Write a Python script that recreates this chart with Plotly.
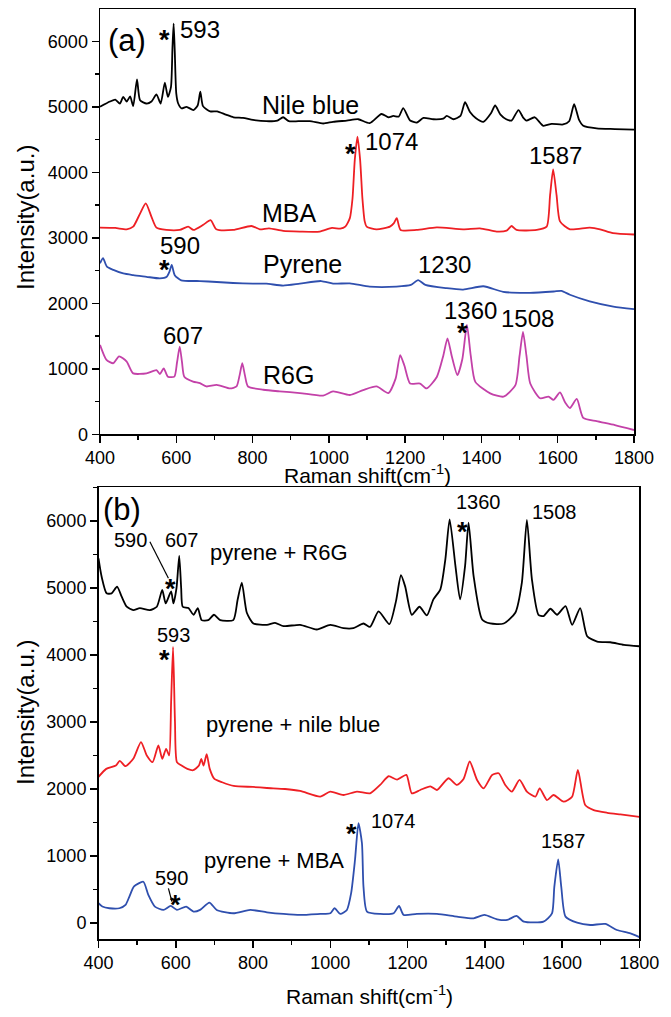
import plotly.graph_objects as go

# ---------------- Panel (a) data ----------------
nile_x = [400, 426, 440, 452, 461, 470, 479, 487, 497, 505, 522, 535, 548, 559, 570, 578, 586, 590, 593, 596, 600, 605,
          614, 627, 645, 656, 663, 670, 689, 707, 730, 750, 775, 801, 836, 865, 880, 895, 920, 950, 985, 1011, 1047,
          1077, 1107, 1138, 1156, 1169, 1183, 1195, 1213, 1231, 1248, 1274, 1300, 1309, 1327, 1345, 1357, 1370, 1385,
          1405, 1425, 1436, 1450, 1465, 1479, 1497, 1510, 1518, 1540, 1562, 1584, 1614, 1630, 1643, 1656, 1667, 1702,
          1750, 1800]
nile_y = [5000, 5080, 5110, 5050, 5150, 5080, 5160, 5010, 5420, 5100, 5050, 5080, 5190, 5050, 5370, 5150, 5300, 5900,
          6270, 5850, 5200, 5050, 4975, 5000, 4950, 5020, 5230, 5010, 4930, 4930, 4880, 4840, 4830, 4800, 4780, 4790,
          4840, 4780, 4780, 4780, 4745, 4770, 4790, 4810, 4750, 4890, 4840, 4860, 4850, 4980, 4790, 4760, 4830, 4810,
          4820, 4860, 4810, 4860, 5070, 4920, 4830, 4770, 4900, 5020, 4880, 4810, 4790, 4950, 4830, 4790, 4840, 4710,
          4740, 4730, 4780, 5040, 4800, 4710, 4670, 4660, 4650]

mba_x = [400, 440, 470, 487, 505, 520, 535, 548, 574, 609, 631, 645, 671, 690, 705, 749, 797, 819, 843, 880, 924, 976,
         1008, 1030, 1043, 1055, 1062, 1068, 1075, 1082, 1088, 1094, 1099, 1125, 1160, 1170, 1178, 1188, 1230, 1283,
         1352, 1396, 1440, 1466, 1479, 1492, 1545, 1571, 1580, 1588, 1597, 1606, 1632, 1684, 1711, 1745, 1800]
mba_y = [3155, 3150, 3130, 3170, 3370, 3525, 3320, 3155, 3120, 3120, 3170, 3120, 3200, 3270, 3130, 3120, 3180, 3130,
         3145, 3105, 3095, 3095, 3150, 3140, 3170, 3300, 3600, 4190, 4545, 4190, 3600, 3250, 3170, 3130, 3170, 3220,
         3300, 3120, 3120, 3160, 3130, 3145, 3095, 3110, 3180, 3120, 3120, 3170, 3650, 4045, 3650, 3250, 3130, 3155,
         3130, 3070, 3050]

pyr_x = [400, 408, 418, 435, 461, 487, 522, 557, 575, 582, 588, 596, 613, 662, 706, 749, 801, 836, 880, 924, 980,
         1011, 1055, 1107, 1177, 1215, 1234, 1253, 1309, 1352, 1405, 1457, 1527, 1590, 1610, 1632, 1684, 1746, 1800]
pyr_y = [2610, 2690, 2560, 2510, 2455, 2430, 2405, 2380, 2405, 2480, 2585, 2430, 2350, 2340, 2325, 2310, 2300, 2300,
         2270, 2300, 2340, 2300, 2305, 2255, 2255, 2280, 2355, 2280, 2230, 2210, 2260, 2175, 2160, 2180, 2190, 2130,
         2030, 1950, 1910]

r6g_x = [400, 417, 435, 450, 470, 487, 522, 548, 557, 567, 578, 595, 602, 609, 615, 621, 644, 662, 679, 706, 741, 758,
         766, 773, 780, 788, 828, 871, 924, 985, 1011, 1055, 1090, 1125, 1156, 1175, 1187, 1198, 1213, 1239, 1256,
         1283, 1300, 1311, 1322, 1337, 1350, 1362, 1372, 1384, 1423, 1458, 1489, 1500, 1509, 1518, 1528, 1554, 1576,
         1589, 1606, 1620, 1632, 1650, 1667, 1702, 1750, 1800]
r6g_y = [1365, 1135, 1085, 1190, 1110, 930, 930, 980, 920, 1005, 880, 880, 1100, 1340, 1100, 880, 805, 780, 730, 755,
         700, 730, 900, 1085, 900, 730, 680, 655, 630, 590, 655, 600, 675, 730, 630, 850, 1210, 1050, 775, 775, 700,
         875, 1200, 1465, 1200, 905, 1150, 1670, 1200, 800, 625, 575, 750, 1200, 1565, 1200, 775, 550, 575, 525, 640,
         480, 400, 540, 250, 200, 140, 65]

# ---------------- Panel (b) data ----------------
pr6g_x = [400, 408, 421, 434, 448, 460, 473, 490, 507, 533, 551, 565, 574, 588, 594, 602, 609, 614, 618, 633, 646, 657,
          667, 684, 699, 715, 749, 760, 771, 784, 801, 836, 857, 879, 922, 965, 1000, 1034, 1060, 1086, 1103, 1125,
          1153, 1170, 1183, 1194, 1211, 1231, 1250, 1267, 1285, 1298, 1309, 1324, 1336, 1349, 1358, 1371, 1393, 1414,
          1449, 1479, 1496, 1509, 1522, 1539, 1552, 1570, 1587, 1609, 1626, 1647, 1665, 1691, 1725, 1760, 1800]
pr6g_y = [5440, 5170, 4920, 4920, 5020, 4870, 4720, 4670, 4700, 4670, 4720, 4970, 4770, 4950, 4770, 5000, 5480, 5000,
          4720, 4700, 4600, 4700, 4520, 4520, 4600, 4520, 4520, 4820, 5080, 4630, 4470, 4450, 4480, 4430, 4450, 4380,
          4450, 4400, 4400, 4470, 4420, 4650, 4460, 4800, 5190, 5020, 4600, 4720, 4590, 4830, 4980, 5430, 6025, 5330,
          4830, 5330, 5975, 5180, 4530, 4470, 4470, 4630, 5080, 6015, 5130, 4600, 4580, 4690, 4600, 4730, 4450, 4700,
          4280, 4200, 4190, 4150, 4130]

pnile_x = [400, 420, 445, 455, 470, 490, 510, 525, 540, 555, 565, 575, 583, 588, 593, 598, 603, 615, 630, 645, 660, 666,
           672, 680, 688, 700, 720, 750, 800, 836, 883, 922, 974, 1000, 1034, 1069, 1103, 1129, 1151, 1173, 1197, 1211,
           1233, 1259, 1276, 1306, 1328, 1345, 1361, 1380, 1397, 1419, 1436, 1453, 1470, 1490, 1509, 1531, 1542, 1561,
           1578, 1604, 1626, 1641, 1660, 1682, 1717, 1751, 1800]
pnile_y = [2180, 2300, 2350, 2420, 2340, 2450, 2700, 2500, 2400, 2650, 2450, 2600, 2500, 3300, 4120, 3000, 2400, 2350,
           2300, 2280, 2350, 2450, 2350, 2520, 2300, 2150, 2100, 2045, 2030, 2015, 2000, 1970, 1885, 1960, 1910, 1960,
           1935, 2060, 2190, 2140, 2210, 1935, 1985, 2040, 1985, 2160, 2060, 2150, 2410, 2135, 2010, 2210, 2235, 2060,
           1960, 2135, 1960, 1885, 2010, 1835, 1910, 1810, 1885, 2285, 1760, 1685, 1645, 1620, 1585]

pmba_x = [400, 410, 428, 454, 470, 480, 492, 516, 529, 546, 568, 587, 603, 627, 646, 663, 687, 706, 749, 793, 836, 879,
          922, 974, 1000, 1011, 1026, 1043, 1054, 1064, 1073, 1082, 1086, 1095, 1129, 1164, 1178, 1190, 1224, 1276,
          1328, 1371, 1399, 1432, 1458, 1482, 1501, 1552, 1574, 1580, 1590, 1598, 1609, 1639, 1673, 1712, 1742, 1777,
          1800]
pmba_y = [295, 245, 220, 220, 270, 395, 545, 615, 420, 245, 195, 255, 195, 245, 170, 195, 305, 195, 145, 195, 160, 135,
          120, 135, 145, 220, 135, 195, 445, 940, 1490, 1190, 540, 170, 135, 145, 255, 120, 135, 135, 95, 70, 120, 55,
          45, 105, 20, 20, 145, 540, 950, 540, 95, 5, -30, -15, -105, -155, -210]

# ---------------- Labels ----------------
x_ticks = [400, 600, 800, 1000, 1200, 1400, 1600, 1800]
y_ticks = [0, 1000, 2000, 3000, 4000, 5000, 6000]

# panel (a): text, x, y, xanchor, size
a_labels = [("(a)", 471, 6005, "center", 31),
            ("593", 605, 6180, "left", 24),
            ("Nile blue", 819, 5030, "left", 25),
            ("1074", 1090, 4467, "left", 24),
            ("1587", 1594, 4264, "center", 24),
            ("MBA", 819, 3374, "left", 25),
            ("590", 610, 2875, "center", 24),
            ("Pyrene", 823, 2600, "left", 25),
            ("1230", 1303, 2600, "center", 24),
            ("1360", 1372, 1890, "center", 24),
            ("1508", 1522, 1768, "center", 24),
            ("607", 618, 1516, "center", 24),
            ("R6G", 823, 905, "left", 25)]
a_stars_x = [570, 1057, 570, 1350]
a_stars_y = [6127, 4391, 2611, 1653]

b_labels = [("(b)", 460, 6172, "center", 31),
            ("590", 484, 5716, "center", 20),
            ("607", 615, 5716, "center", 20),
            ("pyrene + R6G", 684, 5530, "left", 22),
            ("1360", 1384, 6276, "center", 20),
            ("1508", 1581, 6127, "center", 20),
            ("593", 594, 4299, "center", 20),
            ("pyrene + nile blue", 673, 2955, "left", 22),
            ("pyrene + MBA", 667, 928, "left", 22),
            ("590", 590, 675, "center", 20),
            ("1074", 1099, 1525, "left", 20),
            ("1587", 1603, 1224, "center", 20)]
b_stars_x = [587, 1342, 572, 600, 1056]
b_stars_y = [5094, 5940, 4025, 369, 1437]
b_leaders = [(533, 5691, 581, 5145), (581, 518, 590, 318)]

BLACK = "#000000"
RED = "#ee1f24"
BLUE = "#2f4fae"
MAGENTA = "#c341a8"
FONT = "Liberation Sans, Arial, sans-serif"

fig = go.Figure()
for xs, ys, c in [(nile_x, nile_y, BLACK), (mba_x, mba_y, RED), (pyr_x, pyr_y, BLUE), (r6g_x, r6g_y, MAGENTA)]:
    fig.add_trace(go.Scatter(x=xs, y=ys, mode="lines", line=dict(color=c, width=1.8, shape="spline", smoothing=0.6),
                             xaxis="x", yaxis="y", showlegend=False, hoverinfo="skip"))
for xs, ys, c in [(pr6g_x, pr6g_y, BLACK), (pnile_x, pnile_y, RED), (pmba_x, pmba_y, BLUE)]:
    fig.add_trace(go.Scatter(x=xs, y=ys, mode="lines", line=dict(color=c, width=1.8, shape="spline", smoothing=0.6),
                             xaxis="x2", yaxis="y2", showlegend=False, hoverinfo="skip"))

ann = []
for t, x, y, xa, s in a_labels:
    ann.append(dict(text=t, x=x, y=y, xref="x", yref="y", xanchor=xa, yanchor="middle", showarrow=False,
                    font=dict(family=FONT, size=s, color=BLACK)))
for x, y in zip(a_stars_x, a_stars_y):
    ann.append(dict(text="<b>*</b>", x=x, y=y, xref="x", yref="y", xanchor="center", yanchor="middle",
                    showarrow=False, yshift=-7, font=dict(family=FONT, size=27, color=BLACK)))
for t, x, y, xa, s in b_labels:
    ann.append(dict(text=t, x=x, y=y, xref="x2", yref="y2", xanchor=xa, yanchor="middle", showarrow=False,
                    font=dict(family=FONT, size=s, color=BLACK)))
for x, y in zip(b_stars_x, b_stars_y):
    ann.append(dict(text="<b>*</b>", x=x, y=y, xref="x2", yref="y2", xanchor="center", yanchor="middle",
                    showarrow=False, yshift=-7, font=dict(family=FONT, size=27, color=BLACK)))

# axis titles
for yc in [(1 - 218 / 1017), (1 - 713 / 1017)]:
    ann.append(dict(text="Intensity(a.u.)", x=25 / 671, y=yc, xref="paper", yref="paper", textangle=-90,
                    xanchor="center", yanchor="middle", showarrow=False, font=dict(family=FONT, size=24, color=BLACK)))
for xc, yc in [(367 / 671, 1 - 474 / 1017), (369 / 671, 1 - 995 / 1017)]:
    ann.append(dict(text="Raman shift(cm<sup>-1</sup>)", x=xc, y=yc, xref="paper", yref="paper",
                    xanchor="center", yanchor="middle", showarrow=False, font=dict(family=FONT, size=21, color=BLACK)))

shapes = [dict(type="line", x0=a, y0=b, x1=c, y1=d, xref="x2", yref="y2", line=dict(color=BLACK, width=1.2))
          for a, b, c, d in b_leaders]

axis_common = dict(showgrid=False, zeroline=False, showline=True, linecolor=BLACK, linewidth=1.5, mirror=True,
                   ticks="outside", ticklen=7, tickwidth=1.5, tickcolor=BLACK, automargin=False,
                   tickfont=dict(family=FONT, size=18, color=BLACK))

fig.update_layout(
    template="none",
    width=671, height=1017, margin=dict(l=0, r=0, t=0, b=0, autoexpand=False),
    paper_bgcolor="white", plot_bgcolor="white",
    xaxis=dict(domain=[100 / 671, 634 / 671], anchor="y", range=[400, 1800], tickvals=x_ticks,
               minor=dict(dtick=100, tick0=400, ticks="outside", ticklen=4, tickwidth=1.5, tickcolor=BLACK),
               **axis_common),
    yaxis=dict(domain=[1 - 434.3 / 1017, 1 - 9 / 1017], anchor="x", range=[0, 6493], tickvals=y_ticks,
               minor=dict(dtick=500, tick0=0, ticks="outside", ticklen=4, tickwidth=1.5, tickcolor=BLACK),
               **axis_common),
    xaxis2=dict(domain=[98.5 / 671, 639.3 / 671], anchor="y2", range=[400, 1800], tickvals=x_ticks,
                minor=dict(dtick=100, tick0=400, ticks="outside", ticklen=4, tickwidth=1.5, tickcolor=BLACK),
                **axis_common),
    yaxis2=dict(domain=[1 - 939 / 1017, 1 - 487 / 1017], anchor="x2", range=[-239, 6507], tickvals=y_ticks,
                minor=dict(dtick=500, tick0=0, ticks="outside", ticklen=4, tickwidth=1.5, tickcolor=BLACK),
                **axis_common),
    annotations=ann, shapes=shapes,
)

fig.write_html("out.html", config={"displayModeBar": False, "staticPlot": True},
               post_script="document.body.style.margin='0';document.body.style.overflow='hidden';")
